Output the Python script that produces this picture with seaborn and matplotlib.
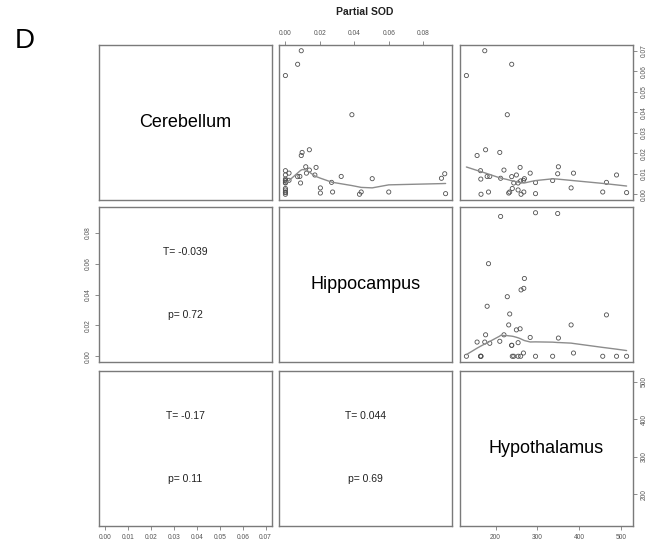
import numpy as np
import pandas as pd
import matplotlib
matplotlib.use("Agg")
import matplotlib.pyplot as plt
import seaborn as sns

# Partial SOD per region, one entry per animal
hypothalamus = [130, 174, 238.6, 228, 176, 155.6, 210, 163.8, 164.5, 179.7,
                186, 165, 183, 212, 220, 238.6, 249.8, 258.7, 243.5, 253.9,
                260, 266.7, 269, 282.9, 240, 233.8, 231.4, 253.9, 261, 267.6,
                295.7, 295.7, 336.7, 350.5, 348.8, 381, 386.7, 456.8, 465.7,
                489.9, 514]
cerebellum = [0.0579, 0.0700, 0.0634, 0.0388, 0.0217, 0.0189, 0.0204, 0.0115,
              0.0074, 0.0087, 0.0087, 0.0000, 0.0011, 0.0078, 0.0118, 0.0086,
              0.0094, 0.0131, 0.0055, 0.0055, 0.0065, 0.0068, 0.0076, 0.0103,
              0.0028, 0.0011, 0.0006, 0.0021, 0.0000, 0.0011, 0.0057, 0.0003,
              0.0067, 0.0134, 0.0100, 0.0031, 0.0103, 0.0011, 0.0058, 0.0094,
              0.0008]
hippocampus = [0.0, 0.0092, 0.0071, 0.0386, 0.0139, 0.0092, 0.0097, 0.0,
               0.0, 0.0324, 0.0084, 0.0, 0.0600, 0.0906, 0.0139, 0.0071,
               0.0171, 0.0178, 0.0, 0.0088, 0.0, 0.0021, 0.0504, 0.0122,
               0.0, 0.0274, 0.0203, 0.0, 0.0430, 0.0440, 0.0, 0.0930,
               0.0, 0.0118, 0.0925, 0.0203, 0.0021, 0.0, 0.0268, 0.0, 0.0]

regions = ["Cerebellum", "Hippocampus", "Hypothalamus"]
# Kendall correlation summaries for the lower panels: (row, col) -> text
tau_labels = {(1, 0): "-0.039", (2, 0): "-0.17", (2, 1): "0.044"}
p_labels = {(1, 0): "0.72", (2, 0): "0.11", (2, 1): "0.69"}

cb_ticks = [0.00, 0.01, 0.02, 0.03, 0.04, 0.05, 0.06, 0.07]
hc_ticks = [0.00, 0.02, 0.04, 0.06, 0.08]
hy_ticks = [200, 300, 400, 500]

df = pd.DataFrame({"Cerebellum": cerebellum,
                   "Hippocampus": hippocampus,
                   "Hypothalamus": hypothalamus})


def lowess(x, y, f=2 / 3, iters=3):
    """Locally weighted scatterplot smoothing (robust, linear fits)."""
    x = np.asarray(x, float)
    y = np.asarray(y, float)
    order = np.argsort(x, kind="stable")
    xs, ys = x[order], y[order]
    n = len(xs)
    r = int(np.ceil(f * n))
    fitted = np.zeros(n)
    rw = np.ones(n)
    for _ in range(iters + 1):
        for i in range(n):
            d = np.abs(xs - xs[i])
            h = max(np.sort(d)[r - 1], 1e-12)
            u = np.clip(d / h, 0, 1)
            w = (1 - u ** 3) ** 3 * rw
            sw = w.sum()
            xm = (w * xs).sum() / sw
            ym = (w * ys).sum() / sw
            sxx = (w * (xs - xm) ** 2).sum()
            if sxx > 1e-14:
                b = (w * (xs - xm) * (ys - ym)).sum() / sxx
                fitted[i] = ym + b * (xs[i] - xm)
            else:
                fitted[i] = ym
        res = ys - fitted
        s = np.median(np.abs(res))
        if s == 0:
            break
        u = np.clip(res / (6 * s), -1, 1)
        rw = (1 - u ** 2) ** 2
    return xs, fitted


def padded(values):
    lo, hi = min(values), max(values)
    ext = 0.04 * (hi - lo)
    return lo - ext, hi + ext


sns.set_style("white")
plt.rcParams["font.family"] = ["Liberation Sans", "DejaVu Sans"]

W, H = 651, 548
fig = plt.figure(figsize=(W / 100, H / 100), dpi=100)
col_left = [99, 279, 460]
row_top = [45, 207, 371]
pw, ph = 173, 155

box_color = "#7a7a7a"
tick_color = "#555555"
axes = {}
for i in range(3):
    for j in range(3):
        ax = fig.add_axes([col_left[j] / W, 1 - (row_top[i] + ph) / H, pw / W, ph / H])
        ax.set_facecolor("white")
        for sp in ax.spines.values():
            sp.set_visible(True)
            sp.set_color(box_color)
            sp.set_linewidth(1.0)
        ax.set_xlim(padded(df[regions[j]]))
        ax.set_ylim(padded(df[regions[i]]))
        ax.set_xticks([])
        ax.set_yticks([])
        ax.set_xlabel("")
        ax.set_ylabel("")
        axes[(i, j)] = ax

# Upper panels: scatter with smooth
for i in range(3):
    for j in range(i + 1, 3):
        ax = axes[(i, j)]
        xv, yv = regions[j], regions[i]
        sns.scatterplot(data=df, x=xv, y=yv, ax=ax, marker="o", s=9,
                        facecolor="none", edgecolor="#505050", linewidth=0.6,
                        legend=False)
        xs, fit = lowess(df[xv], df[yv])
        sns.lineplot(x=xs, y=fit, ax=ax, sort=False, estimator=None,
                     color="#8c8c8c", linewidth=1.0)
        ax.set_xlim(padded(df[xv]))
        ax.set_ylim(padded(df[yv]))
        ax.set_xlabel("")
        ax.set_ylabel("")

# Diagonal: region names
for k in range(3):
    axes[(k, k)].text(0.5, 0.5, regions[k], transform=axes[(k, k)].transAxes,
                      ha="center", va="center", fontsize=13, color="black")

# Lower panels: correlation summaries
for (i, j), tau in tau_labels.items():
    ax = axes[(i, j)]
    ax.text(0.5, 0.71, "T= " + tau, transform=ax.transAxes, ha="center",
            va="center", fontsize=7.5, color="#222222")
    ax.text(0.5, 0.30, "p= " + p_labels[(i, j)], transform=ax.transAxes,
            ha="center", va="center", fontsize=7.5, color="#222222")

tick_kw = dict(length=3, width=0.6, color=box_color, labelsize=4.8,
               labelcolor=tick_color, pad=2.5)

# Top axis: Hippocampus
ax = axes[(0, 1)]
ax.xaxis.set_ticks_position("top")
ax.set_xticks(hc_ticks, [f"{v:.2f}" for v in hc_ticks])
ax.tick_params(axis="x", which="both", top=True, bottom=False,
               labeltop=True, labelbottom=False, **tick_kw)

# Right axis: Cerebellum
ax = axes[(0, 2)]
ax.yaxis.set_ticks_position("right")
ax.set_yticks(cb_ticks, [f"{v:.2f}" for v in cb_ticks], rotation=90, va="center")
ax.tick_params(axis="y", right=True, left=False, labelright=True,
               labelleft=False, **tick_kw)

# Left axis: Hippocampus
ax = axes[(1, 0)]
ax.set_ylim(padded(df["Hippocampus"]))
ax.set_yticks(hc_ticks, [f"{v:.2f}" for v in hc_ticks], rotation=90, va="center")
ax.tick_params(axis="y", left=True, right=False, labelleft=True, **tick_kw)

# Bottom axis: Cerebellum
ax = axes[(2, 0)]
ax.set_xlim(padded(df["Cerebellum"]))
ax.set_xticks(cb_ticks, [f"{v:.2f}" for v in cb_ticks])
ax.tick_params(axis="x", bottom=True, labelbottom=True, **tick_kw)

# Bottom and right axes: Hypothalamus
ax = axes[(2, 2)]
ax.set_xticks(hy_ticks, [str(v) for v in hy_ticks])
ax.tick_params(axis="x", bottom=True, labelbottom=True, **tick_kw)
ax.yaxis.set_ticks_position("right")
ax.set_yticks(hy_ticks, [str(v) for v in hy_ticks], rotation=90, va="center")
ax.tick_params(axis="y", right=True, left=False, labelright=True,
               labelleft=False, **tick_kw)

fig.text(365 / W, 1 - 12 / H, "Partial SOD", ha="center", va="center",
         fontsize=7.5, fontweight="bold", color="#222222")
fig.text(15 / W, 1 - 48 / H, "D", ha="left", va="baseline", fontsize=20,
         color="black")

fig.savefig("out.png", dpi=100, facecolor="white")
